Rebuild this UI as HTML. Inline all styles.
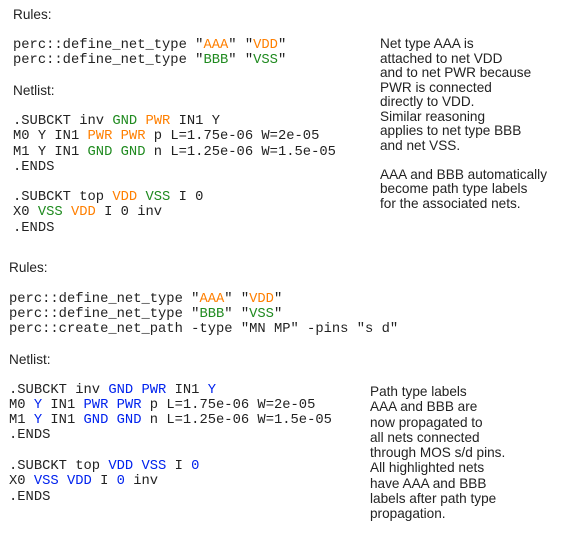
<!DOCTYPE html>
<html><head><meta charset="utf-8"><style>
body{margin:0;width:562px;height:534px;background:#fff;position:relative;overflow:hidden}
.l{position:absolute;white-space:pre;line-height:16px;color:#222}
.c{font-family:"Liberation Mono",monospace;font-size:13.8px}
.s{font-family:"Liberation Sans",sans-serif;font-size:13.6px}
.o{color:#ff7f00}.g{color:#1f8a1f}.b{color:#0022ee}
</style></head><body>
<div class="l s" style="left:13px;top:7px">Rules:</div>
<div class="l c" style="left:13px;top:38px">perc::define_net_type "<span class="o">AAA</span>" "<span class="o">VDD</span>"</div>
<div class="l c" style="left:13px;top:53px">perc::define_net_type "<span class="g">BBB</span>" "<span class="g">VSS</span>"</div>
<div class="l s" style="left:13px;top:83px">Netlist:</div>
<div class="l c" style="left:13px;top:114px">.SUBCKT inv <span class="g">GND</span> <span class="o">PWR</span> IN1 Y</div>
<div class="l c" style="left:13px;top:129px">M0 Y IN1 <span class="o">PWR</span> <span class="o">PWR</span> p L=1.75e-06 W=2e-05</div>
<div class="l c" style="left:13px;top:145px">M1 Y IN1 <span class="g">GND</span> <span class="g">GND</span> n L=1.25e-06 W=1.5e-05</div>
<div class="l c" style="left:13px;top:160px">.ENDS</div>
<div class="l c" style="left:13px;top:190px">.SUBCKT top <span class="o">VDD</span> <span class="g">VSS</span> I 0</div>
<div class="l c" style="left:13px;top:205px">X0 <span class="g">VSS</span> <span class="o">VDD</span> I 0 inv</div>
<div class="l c" style="left:13px;top:221px">.ENDS</div>

<div class="l s" style="left:380px;top:37px;line-height:14.5px">Net type AAA is
attached to net VDD
and to net PWR because
PWR is connected
directly to VDD.
Similar reasoning
applies to net type BBB
and net VSS.

AAA and BBB automatically
become path type labels
for the associated nets.</div>

<div class="l s" style="left:9px;top:260px">Rules:</div>
<div class="l c" style="left:9px;top:292px">perc::define_net_type "<span class="o">AAA</span>" "<span class="o">VDD</span>"</div>
<div class="l c" style="left:9px;top:307px">perc::define_net_type "<span class="g">BBB</span>" "<span class="g">VSS</span>"</div>
<div class="l c" style="left:9px;top:322px">perc::create_net_path -type "MN MP" -pins "s d"</div>
<div class="l s" style="left:9px;top:352px">Netlist:</div>
<div class="l c" style="left:9px;top:383px">.SUBCKT inv <span class="b">GND</span> <span class="b">PWR</span> IN1 <span class="b">Y</span></div>
<div class="l c" style="left:9px;top:398px">M0 <span class="b">Y</span> IN1 <span class="b">PWR</span> <span class="b">PWR</span> p L=1.75e-06 W=2e-05</div>
<div class="l c" style="left:9px;top:413px">M1 <span class="b">Y</span> IN1 <span class="b">GND</span> <span class="b">GND</span> n L=1.25e-06 W=1.5e-05</div>
<div class="l c" style="left:9px;top:428px">.ENDS</div>
<div class="l c" style="left:9px;top:459px">.SUBCKT top <span class="b">VDD</span> <span class="b">VSS</span> I <span class="b">0</span></div>
<div class="l c" style="left:9px;top:474px">X0 <span class="b">VSS</span> <span class="b">VDD</span> I <span class="b">0</span> inv</div>
<div class="l c" style="left:9px;top:490px">.ENDS</div>

<div class="l s" style="left:370px;top:384px;line-height:15.3px">Path type labels
AAA and BBB are
now propagated to
all nets connected
through MOS s/d pins.
All highlighted nets
have AAA and BBB
labels after path type
propagation.</div>
</body></html>
